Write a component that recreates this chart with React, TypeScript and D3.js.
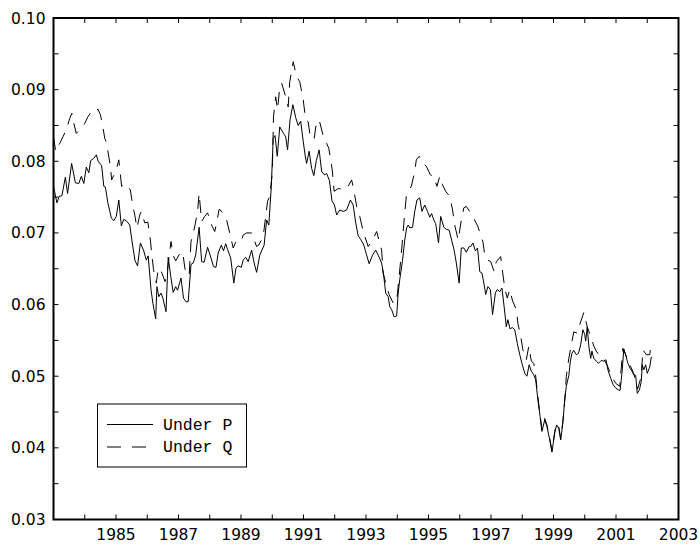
import * as d3 from 'd3';
import React, { useEffect, useRef } from 'react';

// decimal years and values
const pYears = [
  1983.00, 1983.11, 1983.18, 1983.27, 1983.38, 1983.45, 1983.58, 1983.70, 1983.81, 1983.89, 1983.97,
  1984.05, 1984.13, 1984.19, 1984.29, 1984.37, 1984.43, 1984.54, 1984.61, 1984.66, 1984.74, 1984.85, 1984.93,
  1985.01, 1985.09, 1985.17, 1985.25, 1985.35, 1985.44, 1985.52, 1985.61, 1985.69, 1985.78, 1985.88, 1985.97,
  1986.03, 1986.12, 1986.18, 1986.27, 1986.31, 1986.37, 1986.44, 1986.50, 1986.60, 1986.67, 1986.75, 1986.83, 1986.91, 1986.97,
  1987.08, 1987.16, 1987.24, 1987.31, 1987.40, 1987.47, 1987.55, 1987.66, 1987.74, 1987.82, 1987.93,
  1988.04, 1988.12, 1988.20, 1988.27, 1988.37, 1988.44, 1988.51, 1988.57, 1988.67, 1988.77, 1988.84, 1988.91,
  1989.01, 1989.07, 1989.15, 1989.23, 1989.34, 1989.42, 1989.50, 1989.60, 1989.74, 1989.82, 1989.89, 1989.97,
  1990.03, 1990.09, 1990.16, 1990.24, 1990.36, 1990.43, 1990.49, 1990.57, 1990.66, 1990.75, 1990.83, 1990.91, 1990.99,
  1991.06, 1991.10, 1991.18, 1991.26, 1991.33, 1991.41, 1991.50, 1991.58, 1991.67, 1991.74, 1991.83, 1991.91, 1991.99,
  1992.06, 1992.16, 1992.27, 1992.38, 1992.50, 1992.59, 1992.67, 1992.75, 1992.83, 1992.93,
  1993.02, 1993.10, 1993.21, 1993.31, 1993.39, 1993.50, 1993.57, 1993.63, 1993.71, 1993.76, 1993.82, 1993.90, 1993.98,
  1994.03, 1994.08, 1994.17, 1994.24, 1994.30, 1994.35, 1994.40, 1994.49, 1994.56, 1994.63, 1994.72, 1994.79, 1994.88, 1994.97,
  1995.04, 1995.10, 1995.17, 1995.23, 1995.32, 1995.39, 1995.49, 1995.57, 1995.66, 1995.74, 1995.82, 1995.89, 1995.98,
  1996.05, 1996.13, 1996.21, 1996.30, 1996.35, 1996.42, 1996.50, 1996.57, 1996.64, 1996.71, 1996.78, 1996.83, 1996.90, 1996.98,
  1997.05, 1997.14, 1997.20, 1997.28, 1997.35, 1997.42, 1997.49, 1997.54, 1997.61, 1997.68, 1997.76, 1997.84, 1997.92, 1997.99,
  1998.08, 1998.15, 1998.22, 1998.29, 1998.37, 1998.43, 1998.50, 1998.57, 1998.63, 1998.72, 1998.79, 1998.88, 1998.95,
  1999.04, 1999.10, 1999.17, 1999.23, 1999.30, 1999.36, 1999.41, 1999.49, 1999.54, 1999.59, 1999.65, 1999.73, 1999.80, 1999.87, 1999.94,
  2000.00, 2000.03, 2000.08, 2000.13, 2000.19, 2000.23, 2000.29, 2000.37, 2000.44, 2000.53, 2000.61, 2000.68, 2000.74, 2000.83, 2000.91,
  2001.00, 2001.08, 2001.13, 2001.19, 2001.25, 2001.32, 2001.38, 2001.45, 2001.51, 2001.57, 2001.63, 2001.68, 2001.75, 2001.81, 2001.84, 2001.89, 2001.95,
  2002.00, 2002.08, 2002.13,
];

const underP = [
  0.0765, 0.0742, 0.0751, 0.0752, 0.0778, 0.0755, 0.0797, 0.0770, 0.0769, 0.0779, 0.0769,
  0.0792, 0.0784, 0.0801, 0.0804, 0.0809, 0.0800, 0.0794, 0.0765, 0.0764, 0.0742, 0.0721, 0.0717,
  0.0723, 0.0746, 0.0710, 0.0719, 0.0716, 0.0711, 0.0686, 0.0661, 0.0654, 0.0686, 0.0676, 0.0662,
  0.0668, 0.0621, 0.0602, 0.0580, 0.0625, 0.0611, 0.0616, 0.0609, 0.0590, 0.0666, 0.0640, 0.0617, 0.0625, 0.0620,
  0.0637, 0.0609, 0.0604, 0.0604, 0.0656, 0.0658, 0.0669, 0.0708, 0.0660, 0.0659, 0.0680,
  0.0665, 0.0653, 0.0652, 0.0672, 0.0683, 0.0675, 0.0685, 0.0677, 0.0665, 0.0630, 0.0651, 0.0654,
  0.0652, 0.0662, 0.0666, 0.0660, 0.0676, 0.0658, 0.0645, 0.0669, 0.0683, 0.0718, 0.0711, 0.0765,
  0.0832, 0.0836, 0.0807, 0.0848, 0.0839, 0.0834, 0.0816, 0.0858, 0.0879, 0.0861, 0.0850, 0.0856, 0.0828,
  0.0806, 0.0797, 0.0814, 0.0790, 0.0780, 0.0801, 0.0816, 0.0786, 0.0781, 0.0783, 0.0773, 0.0745, 0.0739,
  0.0725, 0.0732, 0.0730, 0.0732, 0.0746, 0.0739, 0.0714, 0.0696, 0.0691, 0.0683,
  0.0669, 0.0657, 0.0669, 0.0676, 0.0669, 0.0658, 0.0639, 0.0616, 0.0611, 0.0597, 0.0593, 0.0583, 0.0584,
  0.0616, 0.0635, 0.0662, 0.0690, 0.0707, 0.0711, 0.0707, 0.0708, 0.0730, 0.0746, 0.0749, 0.0730, 0.0739, 0.0730,
  0.0722, 0.0727, 0.0718, 0.0713, 0.0686, 0.0723, 0.0708, 0.0705, 0.0704, 0.0690, 0.0676, 0.0658, 0.0630,
  0.0679, 0.0679, 0.0673, 0.0681, 0.0681, 0.0686, 0.0675, 0.0679, 0.0646, 0.0644, 0.0628, 0.0614, 0.0625, 0.0621,
  0.0586, 0.0616, 0.0621, 0.0618, 0.0623, 0.0597, 0.0569, 0.0579, 0.0566, 0.0568, 0.0565, 0.0546, 0.0530, 0.0518,
  0.0504, 0.0500, 0.0516, 0.0507, 0.0502, 0.0495, 0.0467, 0.0444, 0.0423, 0.0439, 0.0430, 0.0411, 0.0394,
  0.0421, 0.0432, 0.0427, 0.0411, 0.0435, 0.0468, 0.0486, 0.0501, 0.0521, 0.0532, 0.0536, 0.0530, 0.0532, 0.0544, 0.0565,
  0.0558, 0.0549, 0.0569, 0.0542, 0.0525, 0.0535, 0.0525, 0.0521, 0.0518, 0.0522, 0.0521, 0.0523, 0.0509, 0.0497, 0.0488,
  0.0483, 0.0481, 0.0480, 0.0504, 0.0538, 0.0528, 0.0518, 0.0511, 0.0507, 0.0502, 0.0501, 0.0476, 0.0481, 0.0493, 0.0516, 0.0509, 0.0516,
  0.0504, 0.0513, 0.0527,
];

const qYears = [
  1983.00, 1983.07, 1983.20, 1983.30, 1983.41, 1983.52, 1983.59, 1983.65, 1983.73, 1983.89,
  1984.00, 1984.10, 1984.18, 1984.30, 1984.42, 1984.50, 1984.56, 1984.64, 1984.71, 1984.74, 1984.82, 1984.86,
  1985.01, 1985.09, 1985.18, 1985.32, 1985.46, 1985.52, 1985.60, 1985.67, 1985.76, 1985.81, 1985.92,
  1986.02, 1986.10, 1986.14, 1986.20, 1986.29, 1986.34, 1986.41, 1986.57, 1986.65, 1986.76, 1986.83, 1986.91,
  1987.08, 1987.15, 1987.21, 1987.28, 1987.34, 1987.40, 1987.45, 1987.53, 1987.61, 1987.66, 1987.74, 1987.84, 1987.93,
  1988.08, 1988.16, 1988.22, 1988.30, 1988.38, 1988.46, 1988.54, 1988.64, 1988.75, 1988.86, 1988.93,
  1989.02, 1989.07, 1989.18, 1989.34, 1989.50, 1989.57, 1989.71, 1989.85, 1989.92, 1990.00,
  1990.04, 1990.11, 1990.17, 1990.24, 1990.30, 1990.46, 1990.51, 1990.56, 1990.67, 1990.78, 1990.88, 1990.99,
  1991.07, 1991.15, 1991.20, 1991.34, 1991.39, 1991.50, 1991.66, 1991.74, 1991.81, 1991.92, 1991.98,
  1992.11, 1992.24, 1992.39, 1992.54, 1992.61, 1992.70, 1992.80, 1992.91,
  1993.07, 1993.21, 1993.34, 1993.50, 1993.55, 1993.66, 1993.74, 1993.87, 1993.98,
  1994.06, 1994.14, 1994.22, 1994.29, 1994.38, 1994.45, 1994.56, 1994.61, 1994.70, 1994.83, 1994.93,
  1995.06, 1995.17, 1995.27, 1995.36, 1995.45, 1995.55, 1995.68, 1995.77, 1995.85, 1995.95,
  1996.05, 1996.13, 1996.21, 1996.32, 1996.45, 1996.57, 1996.74, 1996.80, 1996.89, 1996.99,
  1997.10, 1997.17, 1997.31, 1997.36, 1997.44, 1997.52, 1997.60, 1997.69, 1997.81, 1997.86, 1997.95,
  1998.02, 1998.13, 1998.21, 1998.29, 1998.37, 1998.42, 1998.50, 1998.57, 1998.63, 1998.72, 1998.79, 1998.88, 1998.95,
  1999.04, 1999.10, 1999.17, 1999.23, 1999.30, 1999.36, 1999.41, 1999.49, 1999.58, 1999.65, 1999.76, 1999.84, 1999.97,
  2000.08, 2000.21, 2000.29, 2000.37, 2000.48, 2000.60, 2000.73, 2000.86, 2000.99,
  2001.12, 2001.22, 2001.31, 2001.44, 2001.56, 2001.69, 2001.81, 2001.86, 2001.97,
  2002.08, 2002.13,
];

const underQ = [
  0.0834, 0.0814, 0.0825, 0.0834, 0.0844, 0.0860, 0.0867, 0.0853, 0.0839, 0.0846,
  0.0853, 0.0862, 0.0867, 0.0866, 0.0873, 0.0865, 0.0853, 0.0832, 0.0825, 0.0814, 0.0793, 0.0774,
  0.0788, 0.0802, 0.0765, 0.0768, 0.0760, 0.0742, 0.0725, 0.0707, 0.0725, 0.0730, 0.0714,
  0.0715, 0.0690, 0.0672, 0.0649, 0.0630, 0.0646, 0.0651, 0.0632, 0.0649, 0.0688, 0.0669, 0.0661,
  0.0674, 0.0668, 0.0649, 0.0644, 0.0640, 0.0688, 0.0695, 0.0711, 0.0730, 0.0755, 0.0716, 0.0723, 0.0728,
  0.0709, 0.0702, 0.0714, 0.0733, 0.0730, 0.0723, 0.0718, 0.0700, 0.0679, 0.0690, 0.0691,
  0.0690, 0.0697, 0.0700, 0.0700, 0.0681, 0.0683, 0.0695, 0.0744, 0.0751, 0.0783,
  0.0862, 0.0890, 0.0872, 0.0904, 0.0909, 0.0886, 0.0876, 0.0911, 0.0939, 0.0918, 0.0911, 0.0886,
  0.0858, 0.0855, 0.0839, 0.0830, 0.0848, 0.0858, 0.0830, 0.0825, 0.0818, 0.0788, 0.0758,
  0.0762, 0.0761, 0.0762, 0.0774, 0.0760, 0.0737, 0.0723, 0.0702,
  0.0681, 0.0690, 0.0702, 0.0676, 0.0644, 0.0625, 0.0614, 0.0602, 0.0604,
  0.0639, 0.0676, 0.0718, 0.0751, 0.0760, 0.0765, 0.0786, 0.0802, 0.0807, 0.0797, 0.0793,
  0.0781, 0.0779, 0.0765, 0.0779, 0.0767, 0.0758, 0.0751, 0.0732, 0.0709, 0.0690,
  0.0718, 0.0735, 0.0737, 0.0730, 0.0720, 0.0710, 0.0688, 0.0669, 0.0662, 0.0660,
  0.0646, 0.0660, 0.0667, 0.0649, 0.0623, 0.0609, 0.0621, 0.0605, 0.0593, 0.0574, 0.0556,
  0.0537, 0.0523, 0.0542, 0.0521, 0.0518, 0.0504, 0.0472, 0.0446, 0.0425, 0.0441, 0.0432, 0.0413, 0.0396,
  0.0423, 0.0434, 0.0429, 0.0413, 0.0437, 0.0466, 0.0500, 0.0525, 0.0546, 0.0562, 0.0560, 0.0572, 0.0589,
  0.0569, 0.0553, 0.0542, 0.0535, 0.0528, 0.0525, 0.0514, 0.0500, 0.0490,
  0.0486, 0.0539, 0.0530, 0.0516, 0.0505, 0.0482, 0.0500, 0.0537, 0.0530,
  0.0530, 0.0549,
];

const yearTicks = d3.range(1983, 2004);
const yearLabels = [1985, 1987, 1989, 1991, 1993, 1995, 1997, 1999, 2001, 2003];
const rateTicks = d3.range(0.03, 0.1001, 0.005);
const rateLabels = ['0.03', '0.04', '0.05', '0.06', '0.07', '0.08', '0.09', '0.10'];
const legendItems = ['Under P', 'Under Q'];

const W = 699;
const H = 545;
const left = 53.5, right = 678.5, top = 18, bottom = 519.5;

export default function App() {
  const ref = useRef(null);

  useEffect(() => {
    const svg = d3.select(ref.current);
    svg.selectAll('*').remove();

    const x = d3.scaleLinear().domain([1983, 2003]).range([left, right]);
    const y = d3.scaleLinear().domain([0.03, 0.10]).range([bottom, top]);

    const line = d3.line()
      .x((d) => x(d[0]))
      .y((d) => y(d[1]));

    const pData = pYears.map((t, i) => [t, underP[i]]);
    const qData = qYears.map((t, i) => [t, underQ[i]]);

    svg.append('path')
      .datum(qData)
      .attr('d', line)
      .attr('fill', 'none')
      .attr('stroke', '#000')
      .attr('stroke-width', 1)
      .attr('stroke-dasharray', '13 9');

    svg.append('path')
      .datum(pData)
      .attr('d', line)
      .attr('fill', 'none')
      .attr('stroke', '#000')
      .attr('stroke-width', 1);

    // ticks pointing inward on all four sides
    const tl = 5;
    const ticks = svg.append('g').attr('stroke', '#000').attr('stroke-width', 1);
    yearTicks.forEach((t) => {
      ticks.append('line').attr('x1', x(t)).attr('x2', x(t)).attr('y1', bottom).attr('y2', bottom - tl);
      ticks.append('line').attr('x1', x(t)).attr('x2', x(t)).attr('y1', top).attr('y2', top + tl);
    });
    rateTicks.forEach((v) => {
      ticks.append('line').attr('x1', left).attr('x2', left + tl).attr('y1', y(v)).attr('y2', y(v));
      ticks.append('line').attr('x1', right).attr('x2', right - tl).attr('y1', y(v)).attr('y2', y(v));
    });

    svg.append('rect')
      .attr('x', left).attr('y', top)
      .attr('width', right - left).attr('height', bottom - top)
      .attr('fill', 'none').attr('stroke', '#000').attr('stroke-width', 2);

    svg.append('g')
      .selectAll('text')
      .data(yearLabels)
      .enter()
      .append('text')
      .attr('x', (d) => x(d))
      .attr('y', bottom + 20)
      .attr('text-anchor', 'middle')
      .attr('font-family', 'DejaVu Sans')
      .attr('font-size', 15.5)
      .text((d) => d);

    svg.append('g')
      .selectAll('text')
      .data(rateLabels)
      .enter()
      .append('text')
      .attr('x', left - 8)
      .attr('y', (d) => y(+d) + 5.5)
      .attr('text-anchor', 'end')
      .attr('font-family', 'DejaVu Sans')
      .attr('font-size', 15.5)
      .text((d) => d);

    // legend
    const lg = svg.append('g');
    lg.append('rect')
      .attr('x', 97.5).attr('y', 404)
      .attr('width', 149).attr('height', 63)
      .attr('fill', '#fff').attr('stroke', '#000').attr('stroke-width', 1);
    legendItems.forEach((name, i) => {
      const ly = 424.5 + i * 22.5;
      lg.append('line')
        .attr('x1', 107).attr('x2', 153)
        .attr('y1', ly).attr('y2', ly)
        .attr('stroke', '#000').attr('stroke-width', 1)
        .attr('stroke-dasharray', i === 1 ? '14 11' : null);
      lg.append('text')
        .attr('x', 163).attr('y', ly + 5)
        .attr('font-family', 'Liberation Mono')
        .attr('font-size', 16.5)
        .text(name);
    });
  }, []);

  return (
    <svg ref={ref} width={W} height={H}
      style={{ position: 'absolute', left: 0, top: 0, background: '#fff' }} />
  );
}
